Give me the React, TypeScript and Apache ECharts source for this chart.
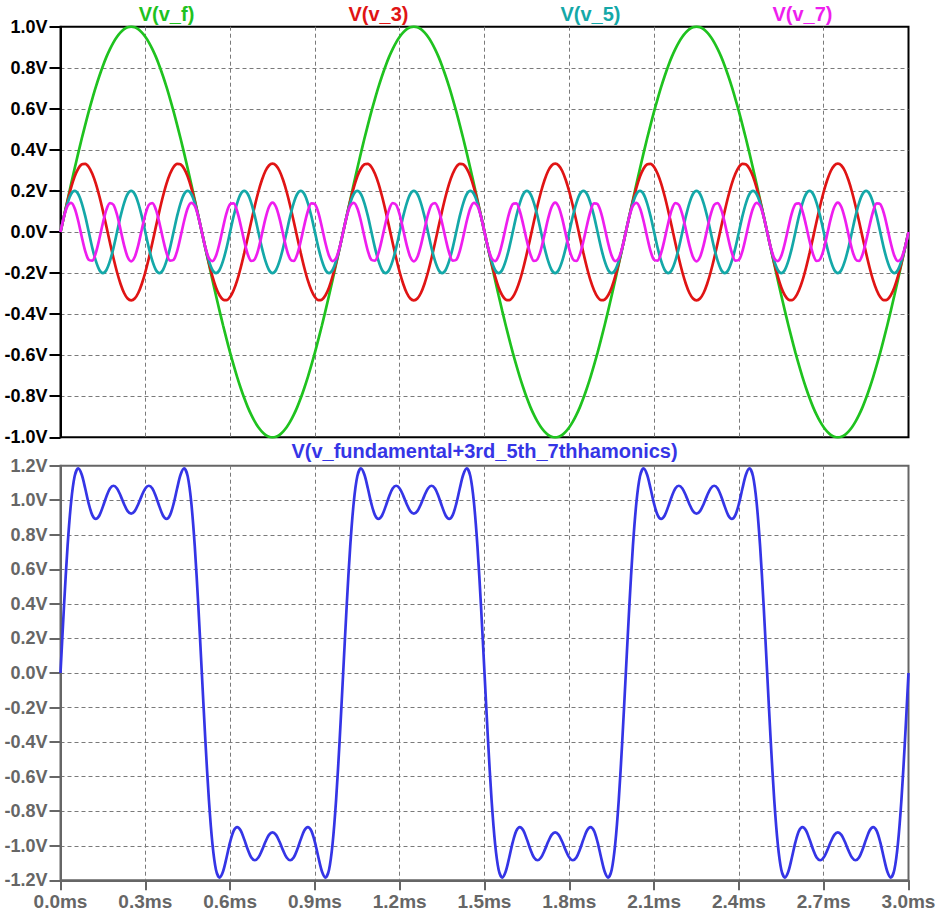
import React, { useEffect, useRef } from "react";
import * as echarts from "echarts";

// Sample spacing of the transient data (ms)
const SAMPLE_STEP_MS = 0.0125;

// Axis ranges
const X_MIN_MS = 0;
const X_MAX_MS = 3;
const X_STEP_MS = 0.3;
const TOP_Y_MIN = -1.0;
const TOP_Y_MAX = 1.0;
const BOT_Y_MIN = -1.2;
const BOT_Y_MAX = 1.2;
const Y_STEP = 0.2;

// V(v_f): 1 kHz fundamental
const V_F = [
  0, 0.078, 0.156, 0.233, 0.309, 0.383, 0.454, 0.522, 0.588, 0.649, 0.707, 0.76, 0.809, 0.853, 0.891, 0.924, 0.951, 0.972, 0.988, 0.997, 1, 0.997, 0.988, 0.972, 0.951, 0.924, 0.891, 0.853, 0.809, 0.76, 0.707, 0.649, 0.588, 0.522, 0.454, 0.383, 0.309, 0.233, 0.156, 0.078,
  0, -0.078, -0.156, -0.233, -0.309, -0.383, -0.454, -0.522, -0.588, -0.649, -0.707, -0.76, -0.809, -0.853, -0.891, -0.924, -0.951, -0.972, -0.988, -0.997, -1, -0.997, -0.988, -0.972, -0.951, -0.924, -0.891, -0.853, -0.809, -0.76, -0.707, -0.649, -0.588, -0.522, -0.454, -0.383, -0.309, -0.233, -0.156, -0.078,
  0, 0.078, 0.156, 0.233, 0.309, 0.383, 0.454, 0.522, 0.588, 0.649, 0.707, 0.76, 0.809, 0.853, 0.891, 0.924, 0.951, 0.972, 0.988, 0.997, 1, 0.997, 0.988, 0.972, 0.951, 0.924, 0.891, 0.853, 0.809, 0.76, 0.707, 0.649, 0.588, 0.522, 0.454, 0.383, 0.309, 0.233, 0.156, 0.078,
  0, -0.078, -0.156, -0.233, -0.309, -0.383, -0.454, -0.522, -0.588, -0.649, -0.707, -0.76, -0.809, -0.853, -0.891, -0.924, -0.951, -0.972, -0.988, -0.997, -1, -0.997, -0.988, -0.972, -0.951, -0.924, -0.891, -0.853, -0.809, -0.76, -0.707, -0.649, -0.588, -0.522, -0.454, -0.383, -0.309, -0.233, -0.156, -0.078,
  0, 0.078, 0.156, 0.233, 0.309, 0.383, 0.454, 0.522, 0.588, 0.649, 0.707, 0.76, 0.809, 0.853, 0.891, 0.924, 0.951, 0.972, 0.988, 0.997, 1, 0.997, 0.988, 0.972, 0.951, 0.924, 0.891, 0.853, 0.809, 0.76, 0.707, 0.649, 0.588, 0.522, 0.454, 0.383, 0.309, 0.233, 0.156, 0.078,
  0, -0.078, -0.156, -0.233, -0.309, -0.383, -0.454, -0.522, -0.588, -0.649, -0.707, -0.76, -0.809, -0.853, -0.891, -0.924, -0.951, -0.972, -0.988, -0.997, -1, -0.997, -0.988, -0.972, -0.951, -0.924, -0.891, -0.853, -0.809, -0.76, -0.707, -0.649, -0.588, -0.522, -0.454, -0.383, -0.309, -0.233, -0.156, -0.078,
  0,
];

// V(v_3): 3rd harmonic
const V_3 = [
  0, 0.078, 0.151, 0.216, 0.27, 0.308, 0.329, 0.332, 0.317, 0.284, 0.236, 0.174, 0.103, 0.026, -0.052, -0.128, -0.196, -0.253, -0.297, -0.324, -0.333, -0.324, -0.297, -0.253, -0.196, -0.128, -0.052, 0.026, 0.103, 0.174, 0.236, 0.284, 0.317, 0.332, 0.329, 0.308, 0.27, 0.216, 0.151, 0.078,
  0, -0.078, -0.151, -0.216, -0.27, -0.308, -0.329, -0.332, -0.317, -0.284, -0.236, -0.174, -0.103, -0.026, 0.052, 0.128, 0.196, 0.253, 0.297, 0.324, 0.333, 0.324, 0.297, 0.253, 0.196, 0.128, 0.052, -0.026, -0.103, -0.174, -0.236, -0.284, -0.317, -0.332, -0.329, -0.308, -0.27, -0.216, -0.151, -0.078,
  0, 0.078, 0.151, 0.216, 0.27, 0.308, 0.329, 0.332, 0.317, 0.284, 0.236, 0.174, 0.103, 0.026, -0.052, -0.128, -0.196, -0.253, -0.297, -0.324, -0.333, -0.324, -0.297, -0.253, -0.196, -0.128, -0.052, 0.026, 0.103, 0.174, 0.236, 0.284, 0.317, 0.332, 0.329, 0.308, 0.27, 0.216, 0.151, 0.078,
  0, -0.078, -0.151, -0.216, -0.27, -0.308, -0.329, -0.332, -0.317, -0.284, -0.236, -0.174, -0.103, -0.026, 0.052, 0.128, 0.196, 0.253, 0.297, 0.324, 0.333, 0.324, 0.297, 0.253, 0.196, 0.128, 0.052, -0.026, -0.103, -0.174, -0.236, -0.284, -0.317, -0.332, -0.329, -0.308, -0.27, -0.216, -0.151, -0.078,
  0, 0.078, 0.151, 0.216, 0.27, 0.308, 0.329, 0.332, 0.317, 0.284, 0.236, 0.174, 0.103, 0.026, -0.052, -0.128, -0.196, -0.253, -0.297, -0.324, -0.333, -0.324, -0.297, -0.253, -0.196, -0.128, -0.052, 0.026, 0.103, 0.174, 0.236, 0.284, 0.317, 0.332, 0.329, 0.308, 0.27, 0.216, 0.151, 0.078,
  0, -0.078, -0.151, -0.216, -0.27, -0.308, -0.329, -0.332, -0.317, -0.284, -0.236, -0.174, -0.103, -0.026, 0.052, 0.128, 0.196, 0.253, 0.297, 0.324, 0.333, 0.324, 0.297, 0.253, 0.196, 0.128, 0.052, -0.026, -0.103, -0.174, -0.236, -0.284, -0.317, -0.332, -0.329, -0.308, -0.27, -0.216, -0.151, -0.078,
  0,
];

// V(v_5): 5th harmonic
const V_5 = [
  0, 0.077, 0.141, 0.185, 0.2, 0.185, 0.141, 0.077, 0, -0.077, -0.141, -0.185, -0.2, -0.185, -0.141, -0.077,
  0, 0.077, 0.141, 0.185, 0.2, 0.185, 0.141, 0.077, 0, -0.077, -0.141, -0.185, -0.2, -0.185, -0.141, -0.077,
  0, 0.077, 0.141, 0.185, 0.2, 0.185, 0.141, 0.077, 0, -0.077, -0.141, -0.185, -0.2, -0.185, -0.141, -0.077,
  0, 0.077, 0.141, 0.185, 0.2, 0.185, 0.141, 0.077, 0, -0.077, -0.141, -0.185, -0.2, -0.185, -0.141, -0.077,
  0, 0.077, 0.141, 0.185, 0.2, 0.185, 0.141, 0.077, 0, -0.077, -0.141, -0.185, -0.2, -0.185, -0.141, -0.077,
  0, 0.077, 0.141, 0.185, 0.2, 0.185, 0.141, 0.077, 0, -0.077, -0.141, -0.185, -0.2, -0.185, -0.141, -0.077,
  0, 0.077, 0.141, 0.185, 0.2, 0.185, 0.141, 0.077, 0, -0.077, -0.141, -0.185, -0.2, -0.185, -0.141, -0.077,
  0, 0.077, 0.141, 0.185, 0.2, 0.185, 0.141, 0.077, 0, -0.077, -0.141, -0.185, -0.2, -0.185, -0.141, -0.077,
  0, 0.077, 0.141, 0.185, 0.2, 0.185, 0.141, 0.077, 0, -0.077, -0.141, -0.185, -0.2, -0.185, -0.141, -0.077,
  0, 0.077, 0.141, 0.185, 0.2, 0.185, 0.141, 0.077, 0, -0.077, -0.141, -0.185, -0.2, -0.185, -0.141, -0.077,
  0, 0.077, 0.141, 0.185, 0.2, 0.185, 0.141, 0.077, 0, -0.077, -0.141, -0.185, -0.2, -0.185, -0.141, -0.077,
  0, 0.077, 0.141, 0.185, 0.2, 0.185, 0.141, 0.077, 0, -0.077, -0.141, -0.185, -0.2, -0.185, -0.141, -0.077,
  0, 0.077, 0.141, 0.185, 0.2, 0.185, 0.141, 0.077, 0, -0.077, -0.141, -0.185, -0.2, -0.185, -0.141, -0.077,
  0, 0.077, 0.141, 0.185, 0.2, 0.185, 0.141, 0.077, 0, -0.077, -0.141, -0.185, -0.2, -0.185, -0.141, -0.077,
  0, 0.077, 0.141, 0.185, 0.2, 0.185, 0.141, 0.077, 0, -0.077, -0.141, -0.185, -0.2, -0.185, -0.141, -0.077,
  0,
];

// V(v_7): 7th harmonic
const V_7 = [
  0, 0.075, 0.127, 0.142, 0.116, 0.055, -0.022, -0.093, -0.136, -0.139, -0.101, -0.033, 0.044, 0.109, 0.141, 0.132, 0.084, 0.011, -0.065, -0.122, -0.143, -0.122, -0.065, 0.011, 0.084, 0.132, 0.141, 0.109, 0.044, -0.033, -0.101, -0.139, -0.136, -0.093, -0.022, 0.055, 0.116, 0.142, 0.127, 0.075,
  0, -0.075, -0.127, -0.142, -0.116, -0.055, 0.022, 0.093, 0.136, 0.139, 0.101, 0.033, -0.044, -0.109, -0.141, -0.132, -0.084, -0.011, 0.065, 0.122, 0.143, 0.122, 0.065, -0.011, -0.084, -0.132, -0.141, -0.109, -0.044, 0.033, 0.101, 0.139, 0.136, 0.093, 0.022, -0.055, -0.116, -0.142, -0.127, -0.075,
  0, 0.075, 0.127, 0.142, 0.116, 0.055, -0.022, -0.093, -0.136, -0.139, -0.101, -0.033, 0.044, 0.109, 0.141, 0.132, 0.084, 0.011, -0.065, -0.122, -0.143, -0.122, -0.065, 0.011, 0.084, 0.132, 0.141, 0.109, 0.044, -0.033, -0.101, -0.139, -0.136, -0.093, -0.022, 0.055, 0.116, 0.142, 0.127, 0.075,
  0, -0.075, -0.127, -0.142, -0.116, -0.055, 0.022, 0.093, 0.136, 0.139, 0.101, 0.033, -0.044, -0.109, -0.141, -0.132, -0.084, -0.011, 0.065, 0.122, 0.143, 0.122, 0.065, -0.011, -0.084, -0.132, -0.141, -0.109, -0.044, 0.033, 0.101, 0.139, 0.136, 0.093, 0.022, -0.055, -0.116, -0.142, -0.127, -0.075,
  0, 0.075, 0.127, 0.142, 0.116, 0.055, -0.022, -0.093, -0.136, -0.139, -0.101, -0.033, 0.044, 0.109, 0.141, 0.132, 0.084, 0.011, -0.065, -0.122, -0.143, -0.122, -0.065, 0.011, 0.084, 0.132, 0.141, 0.109, 0.044, -0.033, -0.101, -0.139, -0.136, -0.093, -0.022, 0.055, 0.116, 0.142, 0.127, 0.075,
  0, -0.075, -0.127, -0.142, -0.116, -0.055, 0.022, 0.093, 0.136, 0.139, 0.101, 0.033, -0.044, -0.109, -0.141, -0.132, -0.084, -0.011, 0.065, 0.122, 0.143, 0.122, 0.065, -0.011, -0.084, -0.132, -0.141, -0.109, -0.044, 0.033, 0.101, 0.139, 0.136, 0.093, 0.022, -0.055, -0.116, -0.142, -0.127, -0.075,
  0,
];

// V(v_fundamental+3rd_5th_7thhamonics): summed waveform
const V_SUM = [
  0, 0.391, 0.734, 0.989, 1.139, 1.184, 1.149, 1.068, 0.979, 0.914, 0.892, 0.912, 0.963, 1.022, 1.068, 1.084, 1.068, 1.027, 0.977, 0.937, 0.922, 0.937, 0.977, 1.027, 1.068, 1.084, 1.068, 1.022, 0.963, 0.912, 0.892, 0.914, 0.979, 1.068, 1.149, 1.184, 1.139, 0.989, 0.734, 0.391,
  0, -0.391, -0.734, -0.989, -1.139, -1.184, -1.149, -1.068, -0.979, -0.914, -0.892, -0.912, -0.963, -1.022, -1.068, -1.084, -1.068, -1.027, -0.977, -0.937, -0.922, -0.937, -0.977, -1.027, -1.068, -1.084, -1.068, -1.022, -0.963, -0.912, -0.892, -0.914, -0.979, -1.068, -1.149, -1.184, -1.139, -0.989, -0.734, -0.391,
  0, 0.391, 0.734, 0.989, 1.139, 1.184, 1.149, 1.068, 0.979, 0.914, 0.892, 0.912, 0.963, 1.022, 1.068, 1.084, 1.068, 1.027, 0.977, 0.937, 0.922, 0.937, 0.977, 1.027, 1.068, 1.084, 1.068, 1.022, 0.963, 0.912, 0.892, 0.914, 0.979, 1.068, 1.149, 1.184, 1.139, 0.989, 0.734, 0.391,
  0, -0.391, -0.734, -0.989, -1.139, -1.184, -1.149, -1.068, -0.979, -0.914, -0.892, -0.912, -0.963, -1.022, -1.068, -1.084, -1.068, -1.027, -0.977, -0.937, -0.922, -0.937, -0.977, -1.027, -1.068, -1.084, -1.068, -1.022, -0.963, -0.912, -0.892, -0.914, -0.979, -1.068, -1.149, -1.184, -1.139, -0.989, -0.734, -0.391,
  0, 0.391, 0.734, 0.989, 1.139, 1.184, 1.149, 1.068, 0.979, 0.914, 0.892, 0.912, 0.963, 1.022, 1.068, 1.084, 1.068, 1.027, 0.977, 0.937, 0.922, 0.937, 0.977, 1.027, 1.068, 1.084, 1.068, 1.022, 0.963, 0.912, 0.892, 0.914, 0.979, 1.068, 1.149, 1.184, 1.139, 0.989, 0.734, 0.391,
  0, -0.391, -0.734, -0.989, -1.139, -1.184, -1.149, -1.068, -0.979, -0.914, -0.892, -0.912, -0.963, -1.022, -1.068, -1.084, -1.068, -1.027, -0.977, -0.937, -0.922, -0.937, -0.977, -1.027, -1.068, -1.084, -1.068, -1.022, -0.963, -0.912, -0.892, -0.914, -0.979, -1.068, -1.149, -1.184, -1.139, -0.989, -0.734, -0.391,
  0,
];

const TOP_TRACES = [
  { name: "V(v_f)", values: V_F, color: "#1fc21f" },
  { name: "V(v_3)", values: V_3, color: "#e01414" },
  { name: "V(v_5)", values: V_5, color: "#14a8a8" },
  { name: "V(v_7)", values: V_7, color: "#ee1eee" },
];
const BOTTOM_TRACE = { name: "V(v_fundamental+3rd_5th_7thhamonics)", values: V_SUM, color: "#3535e6" };

// Layout (px)
const CHART_W = 936;
const CHART_H = 918;
const PLOT_LEFT = 60.5;
const PLOT_RIGHT = 908.5;
const TOP_Y0 = 26.7;
const TOP_Y1 = 437.3;
const BOT_Y0 = 465.7;
const BOT_Y1 = 880.3;

const FONT = '"Liberation Sans", Arial, sans-serif';
const GRID_LINE = { color: "#7a7a7a", width: 1, type: [4, 3] as number[] };
const LINE_W = 2.7;

const fmt = (v: number, unit: string) => `${(Math.abs(v) < 1e-9 ? 0 : v).toFixed(1)}${unit}`;

export default function App() {
  const ref = useRef<HTMLDivElement>(null);

  useEffect(() => {
    if (!ref.current) return;
    const chart = echarts.init(ref.current, undefined, { renderer: "svg" });
    const plotW = PLOT_RIGHT - PLOT_LEFT;

    const toPoints = (values: number[]) => values.map((v, i) => [i * SAMPLE_STEP_MS, v]);

    const xAxisBase = {
      type: "value" as const,
      min: X_MIN_MS,
      max: X_MAX_MS,
      interval: X_STEP_MS,
      splitLine: { show: true, showMinLine: false, showMaxLine: false, lineStyle: GRID_LINE },
    };
    const yAxisBase = {
      type: "value" as const,
      interval: Y_STEP,
      splitLine: { show: true, showMinLine: false, showMaxLine: false, lineStyle: GRID_LINE },
    };

    const option = {
      animation: false,
      backgroundColor: "#ffffff",
      textStyle: { fontFamily: FONT },
      grid: [
        {
          left: PLOT_LEFT,
          top: TOP_Y0,
          width: plotW,
          height: TOP_Y1 - TOP_Y0,
          show: true,
          borderColor: "#000000",
          borderWidth: 2,
          backgroundColor: "transparent",
          outerBoundsMode: "none",
        },
        {
          left: PLOT_LEFT,
          top: BOT_Y0,
          width: plotW,
          height: BOT_Y1 - BOT_Y0,
          show: true,
          borderColor: "#666666",
          borderWidth: 2,
          backgroundColor: "transparent",
          outerBoundsMode: "none",
        },
      ],
      xAxis: [
        {
          ...xAxisBase,
          gridIndex: 0,
          axisLine: { show: false, onZero: false },
          axisTick: { show: false },
          axisLabel: { show: false },
        },
        {
          ...xAxisBase,
          gridIndex: 1,
          position: "bottom",
          axisLine: { show: true, onZero: false, lineStyle: { color: "#666666", width: 2 } },
          axisTick: { show: true, length: 10, lineStyle: { color: "#666666", width: 2 } },
          axisLabel: {
            show: true,
            margin: 12,
            color: "#666666",
            fontSize: 19,
            fontWeight: "bold",
            fontFamily: FONT,
            formatter: (v: number) => fmt(v, "ms"),
          },
        },
      ],
      yAxis: [
        {
          ...yAxisBase,
          gridIndex: 0,
          min: TOP_Y_MIN,
          max: TOP_Y_MAX,
          axisLine: { show: true, onZero: false, lineStyle: { color: "#000000", width: 2 } },
          axisTick: { show: true, length: 11, lineStyle: { color: "#000000", width: 2 } },
          axisLabel: {
            show: true,
            margin: 13,
            color: "#000000",
            fontSize: 18,
            fontWeight: "bold",
            fontFamily: FONT,
            formatter: (v: number) => fmt(v, "V"),
          },
        },
        {
          ...yAxisBase,
          gridIndex: 1,
          min: BOT_Y_MIN,
          max: BOT_Y_MAX,
          axisLine: { show: true, onZero: false, lineStyle: { color: "#666666", width: 2 } },
          axisTick: { show: true, length: 11, lineStyle: { color: "#666666", width: 2 } },
          axisLabel: {
            show: true,
            margin: 13,
            color: "#666666",
            fontSize: 18,
            fontWeight: "bold",
            fontFamily: FONT,
            formatter: (v: number) => fmt(v, "V"),
          },
        },
      ],
      series: [
        ...TOP_TRACES.map((t) => ({
          type: "line",
          name: t.name,
          xAxisIndex: 0,
          yAxisIndex: 0,
          data: toPoints(t.values),
          showSymbol: false,
          symbol: "none",
          smooth: 0.3,
          lineStyle: { color: t.color, width: LINE_W },
          itemStyle: { color: t.color },
          emphasis: { disabled: true },
        })),
        {
          type: "line",
          name: BOTTOM_TRACE.name,
          xAxisIndex: 1,
          yAxisIndex: 1,
          data: toPoints(BOTTOM_TRACE.values),
          showSymbol: false,
          symbol: "none",
          smooth: 0.3,
          lineStyle: { color: BOTTOM_TRACE.color, width: LINE_W },
          itemStyle: { color: BOTTOM_TRACE.color },
          emphasis: { disabled: true },
        },
      ],
      graphic: [
        ...TOP_TRACES.map((t, i) => ({
          type: "text",
          silent: true,
          x: PLOT_LEFT + (plotW * (i + 0.5)) / TOP_TRACES.length,
          y: 14,
          style: {
            text: t.name,
            fill: t.color,
            font: `bold 20px ${FONT}`,
            align: "center",
            verticalAlign: "middle",
            textAlign: "center",
            textVerticalAlign: "middle",
          },
        })),
        {
          type: "text",
          silent: true,
          x: (PLOT_LEFT + PLOT_RIGHT) / 2,
          y: 451,
          style: {
            text: BOTTOM_TRACE.name,
            fill: BOTTOM_TRACE.color,
            font: `bold 20px ${FONT}`,
            align: "center",
            verticalAlign: "middle",
            textAlign: "center",
            textVerticalAlign: "middle",
          },
        },
      ],
    };

    chart.setOption(option as any);
    return () => {
      chart.dispose();
    };
  }, []);

  return (
    <div
      ref={ref}
      style={{ position: "fixed", left: 0, top: 0, width: CHART_W, height: CHART_H, background: "#fff" }}
    />
  );
}
